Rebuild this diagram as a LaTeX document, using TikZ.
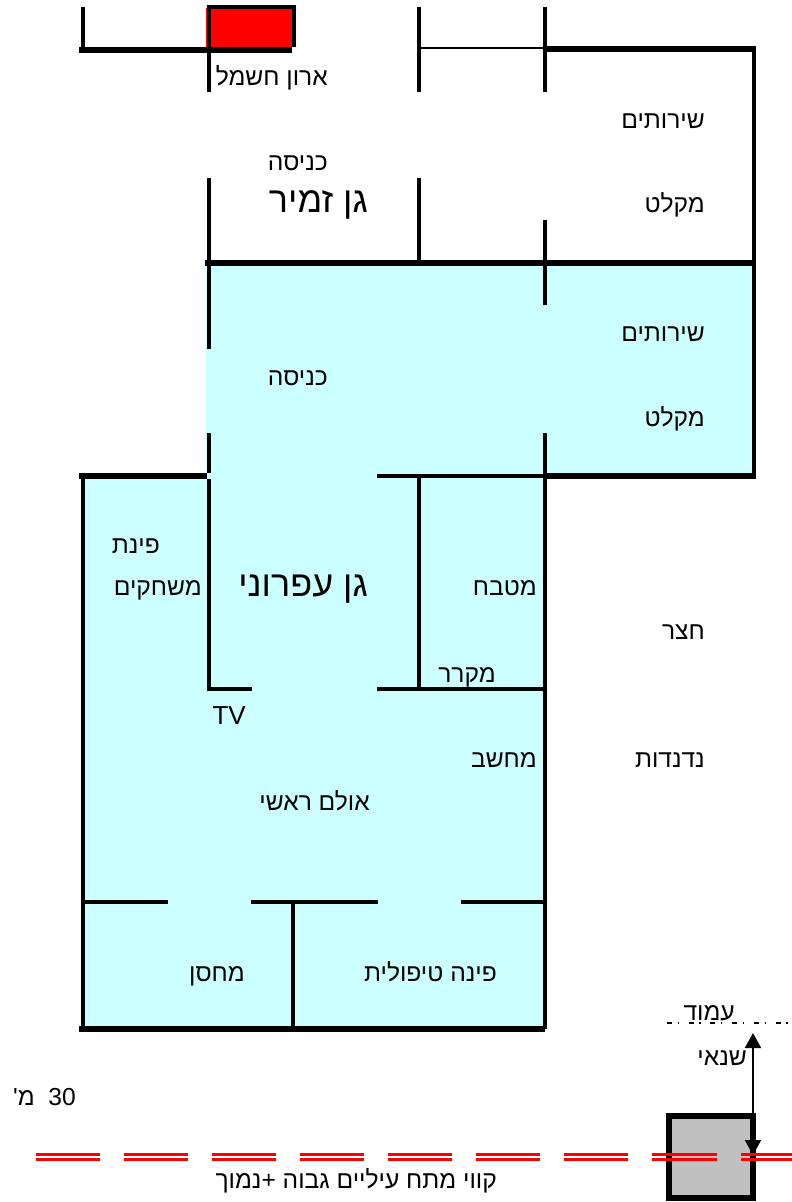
\documentclass[tikz,border=0pt]{standalone}
\usepackage{fontspec}
\usetikzlibrary{arrows.meta}
\setmainfont{Liberation Sans}
\newfontfamily\hebfont[Script=Hebrew]{Liberation Sans}
\TeXXeTstate=1
\definecolor{roomfill}{HTML}{CCFFFF}
\definecolor{boxgray}{HTML}{C0C0C0}
\newcommand{\heb}[1]{\hebfont\beginR #1\endR}
\tikzset{
  heavy/.style={line width=5.6pt,black},
  wall/.style={line width=3.8pt,black},
  thinwall/.style={line width=2pt,black},
  lbl/.style={anchor=base east,inner sep=0pt,font=\fontsize{24.6}{26}\selectfont,text=black},
  latinlbl/.style={lbl,font=\fontsize{26}{28}\selectfont},
  biglbl/.style={lbl,font=\fontsize{36}{38}\selectfont},
  redwire/.style={red,line width=2.6pt},
}
\newcommand{\wire}[2]{\draw[redwire] (#1,1154.7) -- (#2,1154.7) (#1,1159.7) -- (#2,1159.7);}
\begin{document}
\begin{tikzpicture}[x=1pt,y=-1pt]
\useasboundingbox (0,0) rectangle (792,1202);
\fill[white] (0,0) rectangle (792,1202);
% coloured floor
\fill[roomfill] (81,476) -- (206,476) -- (206,263) -- (754,263) -- (754,476) -- (545,476) -- (545,1029) -- (81,1029) -- cycle;
% electric cabinet
\fill[red] (206.3,8) rectangle (292,48);
\draw[wall] (207,7) -- (295.6,7);
\draw[wall] (293.7,7) -- (293.7,47);
% upper storey
\draw[heavy] (79,49.7) -- (292,49.7);
\draw[wall] (83,7) -- (83,48);
\draw[wall] (209,7) -- (209,92);
\draw[wall] (419,7) -- (419,92);
\draw[thinwall] (419,48) -- (545,48);
\draw[wall] (545,7) -- (545,92);
\draw[heavy] (545,49) -- (756,49);
\draw[wall,line width=4pt] (754,49) -- (754,476);
\draw[wall] (209,178) -- (209,263);
\draw[wall] (419,178) -- (419,263);
\draw[wall] (545,220) -- (545,305);
\draw[heavy] (205,263) -- (756,263);
% main building
\draw[wall] (209,263) -- (209,349);
\draw[wall] (209,433) -- (209,473);
\draw[wall] (209,479) -- (209,689);
\draw[heavy] (79,476) -- (207,476);
\draw[wall] (377,476) -- (545,476);
\draw[heavy] (545,476) -- (756,476);
\draw[wall] (419,476) -- (419,689);
\draw[wall] (207.1,689) -- (252,689);
\draw[wall] (377,689) -- (545,689);
\draw[wall] (545,433) -- (545,1029);
\draw[wall] (83,476) -- (83,1029);
\draw[wall] (83,902) -- (168,902);
\draw[wall] (251,902) -- (378,902);
\draw[wall] (461,902) -- (545,902);
\draw[wall] (293,902) -- (293,1029);
\draw[heavy] (79,1029) -- (545,1029);
% pole
\draw[heavy,fill=boxgray] (669,1116) rectangle (753,1198);
% distance marks
\coordinate (armtop) at (753,1033);
\coordinate (armbot) at (753,1155);
\draw[line width=2pt,{Triangle[length=15pt,width=16pt]}-{Triangle[length=15pt,width=16pt]}] (armtop) -- (armbot);
\draw[line width=1.6pt,dash pattern=on 5pt off 5.7pt on 1.3pt off 9.7pt] (667,1022.7) -- (792,1022.7);
% power lines
\wire{36}{100}\wire{124}{188}\wire{212}{276}\wire{300}{364}\wire{388}{452}
\wire{476}{540}\wire{564}{628}\wire{652}{717}\wire{741}{792}
% labels
\node[lbl] (aron) at (328,85) {\heb{ארון חשמל}};
\node[lbl] (sher1) at (705,128) {\heb{שירותים}};
\node[lbl] (knisa1) at (328,170) {\heb{כניסה}};
\node[biglbl] (zamir) at (368,212) {\heb{גן זמיר}};
\node[lbl] (miklat1) at (705,212) {\heb{מקלט}};
\node[lbl] (sher2) at (705,341) {\heb{שירותים}};
\node[lbl] (knisa2) at (328,385) {\heb{כניסה}};
\node[lbl] (miklat2) at (705,426) {\heb{מקלט}};
\node[lbl] (pinat) at (160,553) {\heb{פינת}};
\node[lbl] (games) at (202,595) {\heb{משחקים}};
\node[biglbl] (ofroni) at (368,596) {\heb{גן עפרוני}};
\node[lbl] (kitchen) at (537,595) {\heb{מטבח}};
\node[lbl] (yard) at (705,639) {\heb{חצר}};
\node[lbl] (fridge) at (496,682) {\heb{מקרר}};
\node[latinlbl] (tv) at (246,724.5) {TV};
\node[lbl] (pc) at (537,767) {\heb{מחשב}};
\node[lbl] (swings) at (705,767) {\heb{נדנדות}};
\node[lbl] (hall) at (370,810) {\heb{אולם ראשי}};
\node[lbl] (store) at (245,981) {\heb{מחסן}};
\node[lbl] (care) at (497,981) {\heb{פינה טיפולית}};
\node[lbl] (pole) at (735,1020) {\heb{עמוד}};
\node[lbl] (trafo) at (747,1065) {\heb{שנאי}};
\node[lbl] (dist) at (76,1105) {\hebfont\beginR\beginL 30\endL\ \ מ'\endR};
\node[lbl] (lines) at (497,1188) {\hebfont\beginR קווי מתח עיליים גבוה +נמוך\endR};
\end{tikzpicture}
\end{document}
